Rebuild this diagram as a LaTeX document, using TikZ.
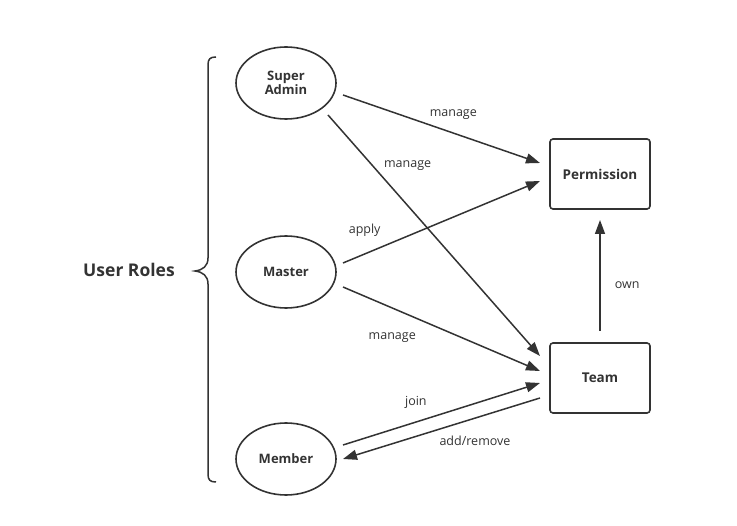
\documentclass[tikz,border=0pt]{standalone}
\usepackage{fontspec}
\setmainfont{Open Sans}
\usetikzlibrary{arrows.meta,shapes.geometric}
\definecolor{ink}{HTML}{333333}
\begin{document}
\begin{tikzpicture}[x=1pt,y=-1pt,
  role/.style={ellipse,draw=ink,line width=1.6pt,minimum width=100pt,minimum height=72pt,inner sep=0pt,font=\fontsize{13}{14.5}\selectfont\bfseries,text=ink,align=center},
  thing/.style={rectangle,rounded corners=3pt,draw=ink,line width=1.6pt,minimum width=100pt,minimum height=70pt,inner sep=0pt,font=\fontsize{13.5}{15}\selectfont\bfseries,text=ink},
  link/.style={draw=ink,line width=1.5pt,-{Triangle[length=14pt,width=10pt]}},
  lbl/.style={font=\fontsize{12.5}{14}\selectfont,text=ink,inner sep=0pt}]
\useasboundingbox (0,0) rectangle (737,526);
\node[role] (sa) at (286,83) {Super\\Admin};
\node[role] (ma) at (286,272) {Master};
\node[role] (me) at (286,459) {Member};
\node[thing] (pe) at (600,174) {Permission};
\node[thing] (te) at (600,378) {Team};
\node[font=\fontsize{17.5}{20}\selectfont\bfseries,text=ink] (ur) at (129,270) {User Roles};
% brace
\draw[ink,line width=1.5pt] (216,57) .. controls (210,57) and (208,59) .. (208,65)
  -- (208,258) .. controls (208,266) and (203,270) .. (195,271)
  .. controls (203,272) and (208,276) .. (208,284)
  -- (208,474) .. controls (208,480) and (210,482) .. (216,482);
% connectors
\draw[link] ([shift={(57,12)}]sa.center) -- node[lbl,pos=0.56,above=13pt]{manage} ([shift={(-60,-11)}]pe.center);
\draw[link] ([shift={(42,32)}]sa.center) -- node[lbl,pos=0.3,xshift=16pt,yshift=22pt]{manage} ([shift={(-60,-22)}]te.center);
\draw[link] ([shift={(57,-9)}]ma.center) -- node[lbl,pos=0.11,above=17pt]{apply} ([shift={(-60,7)}]pe.center);
\draw[link] ([shift={(57,15)}]ma.center) -- node[lbl,pos=0.25,below=24pt]{manage} ([shift={(-60,-7)}]te.center);
\draw[link] ([shift={(57,-14)}]me.center) -- node[lbl,pos=0.37,above=13pt]{join} ([shift={(-60,5)}]te.center);
\draw[link] ([shift={(-60,20)}]te.center) -- node[lbl,pos=0.33,below=17pt]{add/remove} ([shift={(57,0)}]me.center);
\draw[link] ([shift={(0,-47)}]te.center) -- node[lbl,right=14pt,yshift=-10pt]{own} ([shift={(0,46)}]pe.center);
\end{tikzpicture}
\end{document}
